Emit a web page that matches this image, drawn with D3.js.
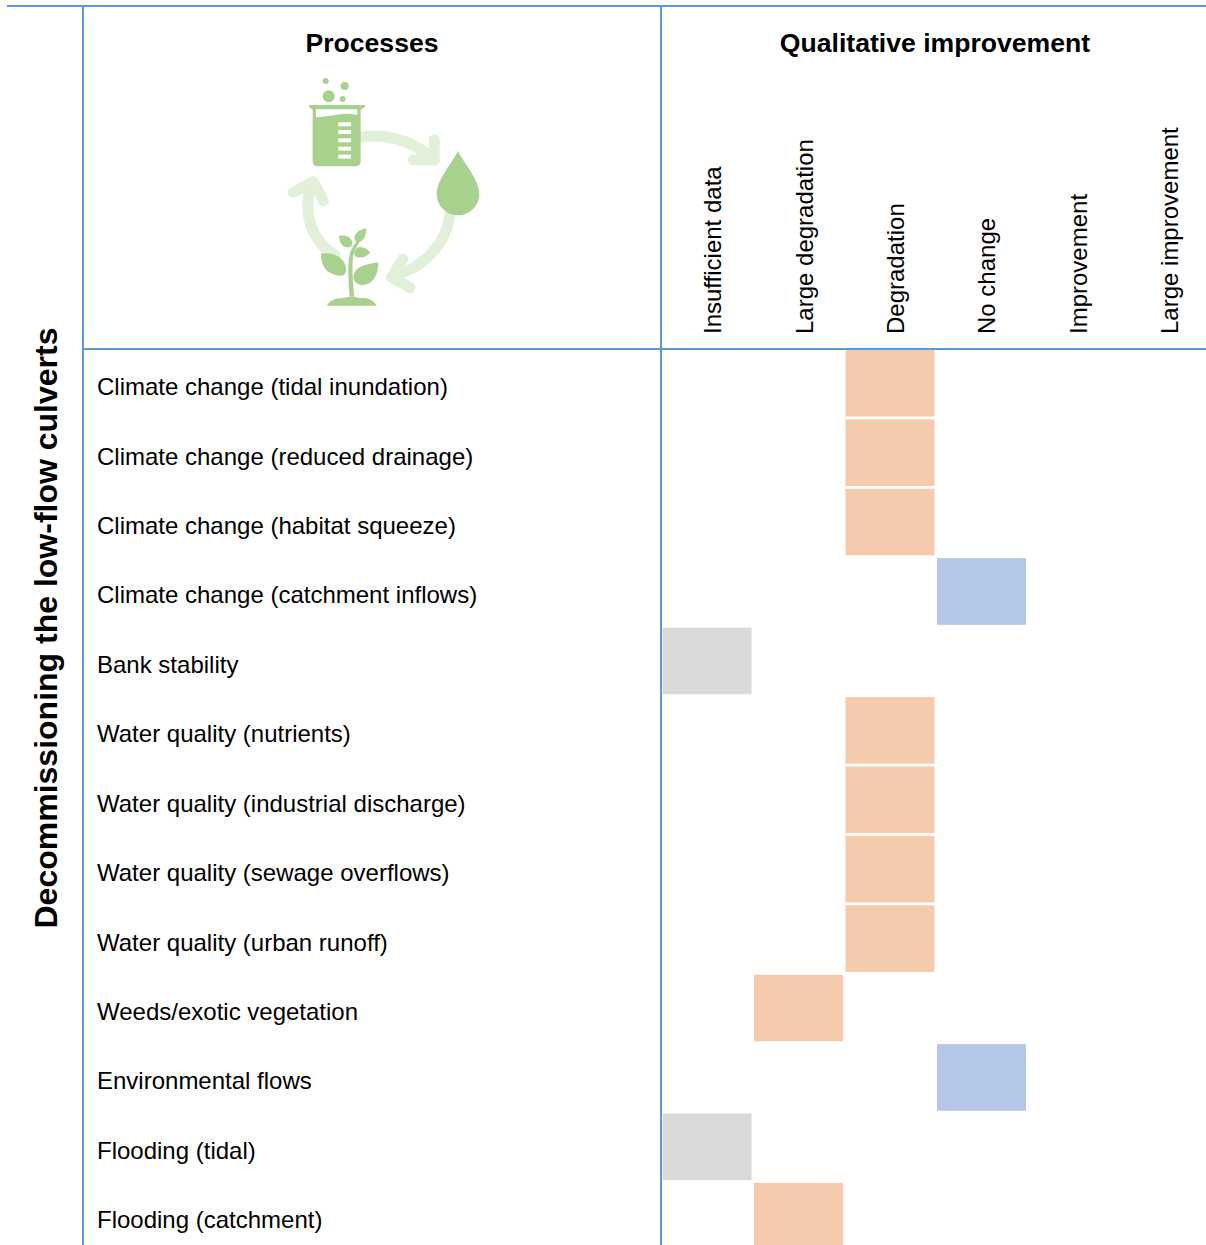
<!DOCTYPE html>
<html>
<head>
<meta charset="utf-8">
<script src="https://cdn.jsdelivr.net/npm/d3@7"></script>
<style>
html, body { margin: 0; padding: 0; background: #fff; overflow: hidden; }
svg { display: block; font-family: 'Liberation Sans', Arial, sans-serif; }
</style>
</head>
<body>
<div id="chart"></div>
<script>
var WIDTH = 1206;
var HEIGHT = 1245;
var LINE = '#5b9bd5';

var processes = [
    'Climate change (tidal inundation)',
    'Climate change (reduced drainage)',
    'Climate change (habitat squeeze)',
    'Climate change (catchment inflows)',
    'Bank stability',
    'Water quality (nutrients)',
    'Water quality (industrial discharge)',
    'Water quality (sewage overflows)',
    'Water quality (urban runoff)',
    'Weeds/exotic vegetation',
    'Environmental flows',
    'Flooding (tidal)',
    'Flooding (catchment)'
];
var ratings = ['Insufficient data', 'Large degradation', 'Degradation', 'No change', 'Improvement', 'Large improvement'];
var processRatings = [
    'Degradation', 'Degradation', 'Degradation', 'No change', 'Insufficient data',
    'Degradation', 'Degradation', 'Degradation', 'Degradation',
    'Large degradation', 'No change', 'Insufficient data', 'Large degradation'
];
var ratingColours = ['#d9d9d9', '#f6cbad', '#f6cbad', '#b4c7e7', '#c5e0b4', '#a9d18e'];

var svg = d3.select('#chart').append('svg').attr('width', WIDTH).attr('height', HEIGHT);

var xScale = d3.scaleBand().domain(ratings).range([662.5, 1209]).paddingInner(0.027).paddingOuter(0);
var yScale = d3.scaleBand().domain(processes).range([348.5, 1251]).paddingInner(0.04).paddingOuter(0.02);
var colour = d3.scaleOrdinal().domain(ratings).range(ratingColours);

/** Cells */
svg.append('g').selectAll('rect').data(processes).join('rect')
    .attr('x', function (d, i) { return xScale(processRatings[i]); })
    .attr('y', function (d) { return yScale(d); })
    .attr('width', xScale.bandwidth())
    .attr('height', yScale.bandwidth())
    .attr('fill', function (d, i) { return colour(processRatings[i]); });

/** Row labels */
svg.append('g').selectAll('text').data(processes).join('text')
    .attr('x', 97)
    .attr('y', function (d) { return yScale(d) + yScale.bandwidth() / 2 + 12; })
    .style('font-size', '24px')
    .attr('fill', '#000')
    .text(function (d) { return d; });

/** Column labels */
svg.append('g').selectAll('text').data(ratings).join('text')
    .attr('transform', function (d) {
        return 'translate(' + (xScale(d) + xScale.bandwidth() / 2 + 14) + ',334) rotate(-90)';
    })
    .style('font-size', '24px')
    .attr('fill', '#000')
    .text(function (d) { return d; });

/** Headers */
svg.append('text').attr('x', 372).attr('y', 52).attr('text-anchor', 'middle')
    .style('font-size', '26.6px').style('font-weight', 'bold').text('Processes');
svg.append('text').attr('x', 935).attr('y', 52).attr('text-anchor', 'middle')
    .style('font-size', '26.6px').style('font-weight', 'bold').text('Qualitative improvement');
svg.append('text').attr('transform', 'translate(56.5,628) rotate(-90)').attr('text-anchor', 'middle')
    .style('font-size', '32px').style('font-weight', 'bold').text('Decommissioning the low-flow culverts');

/** Table rules */
var rules = svg.append('g').attr('stroke', LINE).attr('stroke-width', 2);
rules.append('line').attr('x1', 7).attr('x2', WIDTH).attr('y1', 6).attr('y2', 6);
rules.append('line').attr('x1', 83).attr('x2', WIDTH).attr('y1', 349).attr('y2', 349);
rules.append('line').attr('x1', 83).attr('x2', 83).attr('y1', 6).attr('y2', HEIGHT);
rules.append('line').attr('x1', 661).attr('x2', 661).attr('y1', 6).attr('y2', HEIGHT);

/** Cycle icon */
var icon = svg.append('g').attr('transform', 'translate(270,65) scale(0.3333)');
var arrows = icon.append('g').attr('fill', 'none').attr('stroke', '#e2efd9').attr('stroke-width', 33).attr('stroke-linecap', 'round').attr('stroke-linejoin', 'round');
arrows.append('path').attr('d', 'M275,216 C345,205 420,225 478,272');
arrows.append('path').attr('d', 'M493,224 L493,285 L430,285');
arrows.append('path').attr('d', 'M540,450 C530,530 470,600 385,628');
arrows.append('path').attr('d', 'M398,582 L365,637 L420,668');
arrows.append('path').attr('d', 'M195,570 C125,530 95,440 125,360');
arrows.append('path').attr('d', 'M70,382 L130,350 L160,407');

var green = icon.append('g').attr('fill', '#a9d18e');
[[167, 48, 9], [224, 63, 12], [176, 94, 18], [218, 102, 9]].forEach(function (b) {
    green.append('circle').attr('cx', b[0]).attr('cy', b[1]).attr('r', b[2]);
});
green.append('path').attr('d', 'M117,120 L285,120 L285,126 L272,134 L272,288 Q272,304 256,304 L144,304 Q128,304 128,288 L128,134 L117,126 Z');
icon.append('path').attr('fill', '#fff').attr('d', 'M138,133 L262,133 L262,150 C235,143 215,147 190,151 C170,155 155,156 138,157 Z');
[172, 195, 220, 245, 269].forEach(function (y) {
    icon.append('rect').attr('x', 205).attr('y', y).attr('width', 38).attr('height', 12).attr('fill', '#fff');
});
green.append('path').attr('d', 'M564,258 C546,295 500,345 500,387 A64,64 0 0 0 628,387 C628,345 582,295 564,258 Z');

/** Plant */
green.append('path').attr('d', 'M170,722 C180,705 200,698 218,700 C232,695 258,695 270,700 C295,696 312,708 320,722 Z');
green.append('path').attr('d', 'M239,695 C235,650 232,590 240,565 C245,548 255,535 266,518 L273,523 C265,540 254,552 250,570 C245,600 248,650 253,695 Z');
green.append('path').attr('d', 'M153,566 C200,560 232,585 228,620 C224,634 210,634 198,630 C165,622 152,600 153,566 Z');
green.append('path').attr('d', 'M325,592 C325,635 305,664 272,660 C248,656 245,632 258,616 C272,600 300,596 325,592 Z');
green.append('path').attr('d', 'M207,513 C228,508 248,520 247,536 C246,548 232,548 224,545 C212,540 209,528 207,513 Z');
green.append('path').attr('d', 'M289,490 C289,510 282,530 266,531 C252,531 250,516 258,506 C265,497 277,493 289,490 Z');
green.append('path').attr('d', 'M301,562 C290,577 270,582 256,574 C249,566 254,553 265,547 C278,544 291,553 301,562 Z');
</script>
</body>
</html>
